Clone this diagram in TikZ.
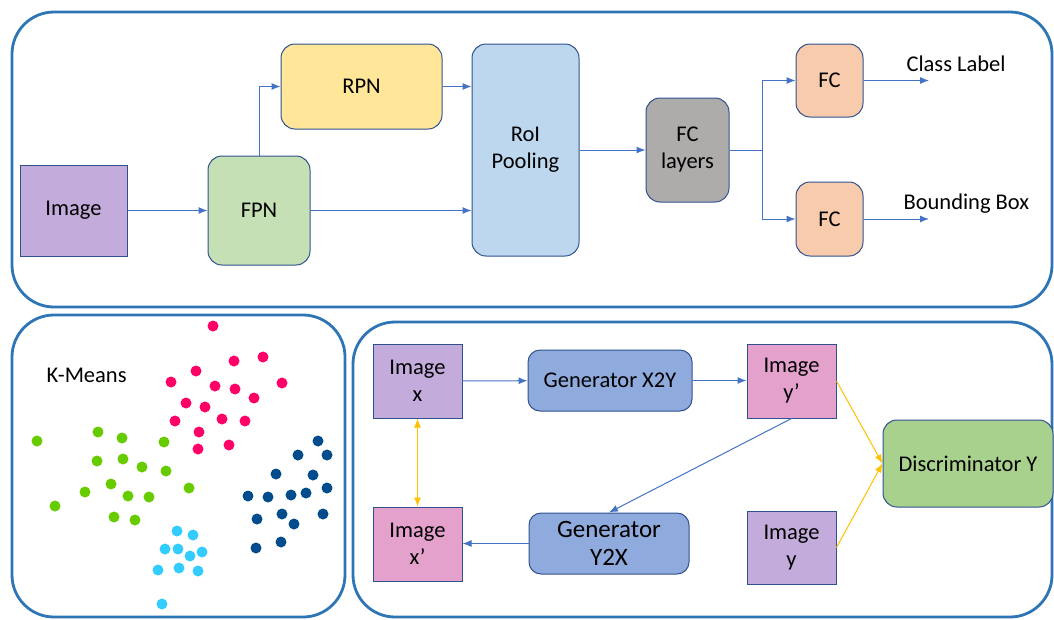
\documentclass[tikz,border=0pt]{standalone}
\usepackage{fontspec}
\setmainfont{Carlito}
\usetikzlibrary{arrows.meta,scopes}

\definecolor{panelblue}{HTML}{2E75B6}
\definecolor{boxline}{HTML}{2F528F}
\definecolor{flowblue}{HTML}{4472C4}
\definecolor{goldline}{HTML}{FFC000}
\definecolor{imgpurple}{HTML}{C3ABDB}
\definecolor{fpngreen}{HTML}{C5E0B4}
\definecolor{rpnyellow}{HTML}{FFE699}
\definecolor{roiblue}{HTML}{BDD7EE}
\definecolor{fcgray}{HTML}{AEABAB}
\definecolor{fcpeach}{HTML}{F8CBAD}
\definecolor{genblue}{HTML}{8FAADC}
\definecolor{imgpink}{HTML}{E3A1CC}
\definecolor{discgreen}{HTML}{A9D18E}
\definecolor{kpink}{HTML}{FF0066}
\definecolor{kgreen}{HTML}{66CC00}
\definecolor{knavy}{HTML}{004C8C}
\definecolor{kcyan}{HTML}{33CCFF}

\begin{document}
\begin{tikzpicture}[
    x=1pt, y=-1pt,
    panel/.style={draw=panelblue, line width=2.8pt, rounded corners=42pt},
    box/.style={rectangle, draw=boxline, line width=1pt, align=center, inner sep=2pt, font=\fontsize{22.5}{27}\selectfont},
    rbox/.style={box, rounded corners=14pt},
    flow/.style={draw=flowblue, line width=1pt, >={Latex[length=9pt,width=7pt]}},
    gold/.style={draw=goldline, line width=1pt, >={Latex[length=9pt,width=7pt]}},
    lbl/.style={anchor=west, font=\fontsize{22.5}{27}\selectfont},
]
\useasboundingbox (0,0) rectangle (1054,619);

% panels
\draw[panel] (12,12) rectangle (1052,307);
\draw[panel] (12,315) rectangle (345,617);
\draw[panel] (353,322) rectangle (1052,617);

% detection network
\node[box, fill=imgpurple, minimum width=107pt, minimum height=91pt] (image) at (73.5,210.5) {Image};
\node[rbox, fill=fpngreen, minimum width=102pt, minimum height=109pt] (fpn) at (259,210.5) {FPN};
\node[rbox, fill=rpnyellow, minimum width=161pt, minimum height=85pt] (rpn) at (361.5,86.5) {RPN};
\node[rbox, fill=roiblue, minimum width=107pt, minimum height=212pt] (roi) at (525.5,150) {RoI\\Pooling};
\node[rbox, fill=fcgray, minimum width=83pt, minimum height=104pt] (fcl) at (687.5,150) {FC\\layers};
\node[rbox, fill=fcpeach, minimum width=67pt, minimum height=73pt] (fca) at (829.5,80.5) {FC};
\node[rbox, fill=fcpeach, minimum width=67pt, minimum height=74pt] (fcb) at (829.5,219) {FC};
\coordinate (split) at (762,150);
\coordinate (outa) at (929,80.5);
\coordinate (outb) at (929,219);
\node[lbl] (cls) at (903,64) {Class Label};
\node[lbl] (bbox) at (900,204) {Bounding Box};

{[flow,->]
    \draw (image) -- (fpn);
    \draw (fpn.north) |- (rpn.west);
    \draw (rpn.east) -- (rpn.east -| roi.west);
    \draw (fpn.east) -- (fpn.east -| roi.west);
    \draw (roi.east |- fcl.west) -- (fcl.west);
    \draw (fcl.east) -- (split) |- (fca.west);
    \draw (split) |- (fcb.west);
    \draw (fca.east) -- (outa);
    \draw (fcb.east) -- (outb);
}

% k-means
\node[lbl] (kmeans) at (43,375) {K-Means};
\foreach \px/\py in {213/326,234/361,263/357,196/371,171/382,215/386,235/389,282/383,254/398,
    186/403,205/407,175/421,222/419,245/421,199/432,198/449,229/445}
    \fill[kpink] (\px,\py) circle (5.5);
\foreach \px/\py in {37/441,98/432,122/438,164/442,97/461,123/459,142/467,166/471,111/484,
    85/492,128/496,149/497,189/488,55/506,114/517,135/520}
    \fill[kgreen] (\px,\py) circle (5.5);
\foreach \px/\py in {318/441,298/455,327/455,276/474,313/475,327/488,248/496,268/497,291/495,
    306/493,257/519,282/514,294/524,323/514,256/548,281/542}
    \fill[knavy] (\px,\py) circle (5.5);
\foreach \px/\py in {177/531,193/535,165/549,178/549,190/556,202/552,158/570,179/568,198/571,162/604}
    \fill[kcyan] (\px,\py) circle (5.5);

% cycle gan
\node[box, fill=imgpurple, minimum width=89pt, minimum height=74pt] (imgx) at (417.5,381) {Image\\x};
\node[rbox, rounded corners=12pt, fill=genblue, minimum width=164pt, minimum height=61pt] (genxy) at (610,380.5) {Generator X2Y};
\node[box, fill=imgpink, minimum width=89pt, minimum height=74pt] (imgyp) at (791.5,381) {Image\\y’};
\node[rbox, fill=discgreen, minimum width=170pt, minimum height=87pt] (disc) at (968,463.5) {Discriminator Y};
\node[box, fill=imgpink, minimum width=89pt, minimum height=74pt] (imgxp) at (417.5,544) {Image\\x’};
\node[rbox, rounded corners=12pt, fill=genblue, minimum width=160pt, minimum height=61pt,
    font=\fontsize{25}{28}\selectfont] (genyx) at (609,543.5) {Generator\\Y2X};
\node[box, fill=imgpurple, minimum width=89pt, minimum height=73pt] (imgy) at (791.5,547.5) {Image\\y};

{[flow,->]
    \draw (imgx) -- (genxy);
    \draw (genxy) -- (imgyp.west |- genxy);
    \draw (imgyp.south) -- (genyx.north);
    \draw (genyx.west) -- (imgxp.east |- genyx.west);
}
{[gold,->]
    \draw[<->] (imgx.south) -- (imgxp.north);
    \draw (imgyp.east) -- (disc.west);
    \draw (imgy.east) -- (disc.west);
}
\end{tikzpicture}
\end{document}
